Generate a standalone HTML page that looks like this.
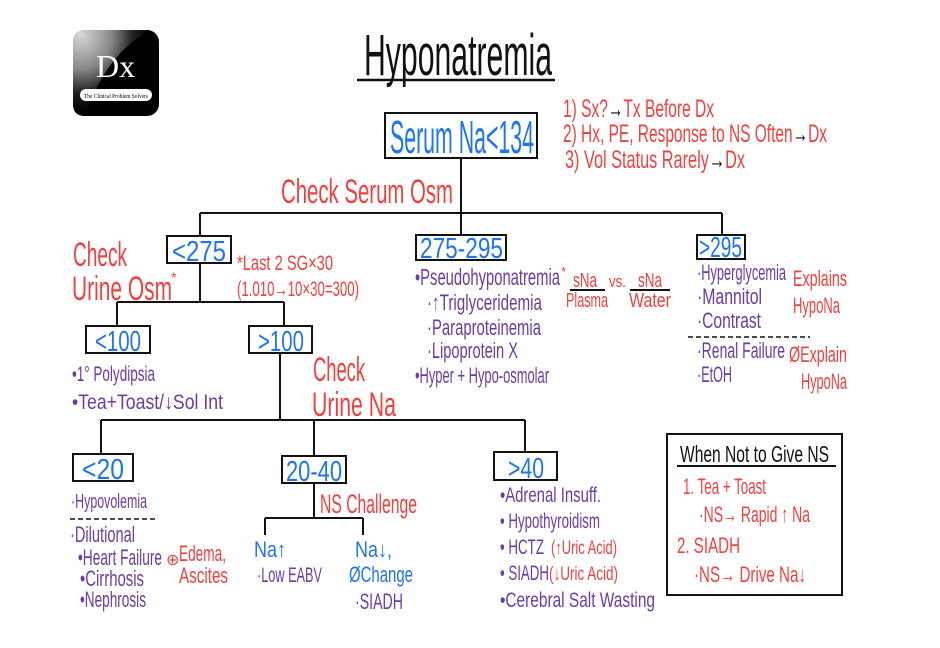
<!DOCTYPE html>
<html><head><meta charset="utf-8"><style>
html,body{margin:0;padding:0;background:#fff;}
svg{display:block;}
text{font-family:"Liberation Sans","DejaVu Sans",sans-serif;}
.b{fill:#1f74f2}.r{fill:#f2403c}.p{fill:#6b3ca6}.k{fill:#111}
</style></head><body>
<svg width="940" height="648" viewBox="0 0 940 648" xmlns="http://www.w3.org/2000/svg">
<defs>
<radialGradient id="g" cx="0.1" cy="0.05" r="0.9">
<stop offset="0" stop-color="#d8d8d8"/><stop offset="0.45" stop-color="#888"/><stop offset="0.75" stop-color="#222"/><stop offset="1" stop-color="#000"/>
</radialGradient>
</defs>
<!-- logo -->
<rect x="73" y="30" width="86" height="86" rx="12" fill="#000"/>
<path d="M85,30 L150,30 Q105,55 85,116 Q73,116 73,104 L73,42 Q73,30 85,30 Z" fill="url(#g)"/>
<text x="96" y="77" font-size="32" fill="#fff" style="font-family:'Liberation Serif',serif">Dx</text>
<rect x="80" y="89" width="72" height="12" rx="6" fill="#fff"/>
<text x="84" y="98" font-size="6.5" fill="#000" textLength="64" lengthAdjust="spacingAndGlyphs" style="font-family:'Liberation Serif',serif">The Clinical Problem Solvers</text>

<!-- title -->
<text x="364" y="75" font-size="58" class="k" textLength="188" lengthAdjust="spacingAndGlyphs">Hyponatremia</text>
<line x1="357" y1="80" x2="555" y2="80" stroke="#111" stroke-width="2.5"/>

<!-- lines -->
<g stroke="#111" stroke-width="2" fill="none">
<rect x="385" y="113" width="152" height="45"/>
<path d="M461,158 V235 M200,213 H722 M200,213 V236 M722,213 V235"/>
<rect x="167" y="236" width="64" height="27"/>
<rect x="416" y="235" width="90" height="25"/>
<rect x="697" y="235" width="48" height="24"/>
<path d="M200,263 V302 M117,302 H284 M117,302 V326 M284,302 V326"/>
<rect x="86" y="326" width="64" height="27"/>
<rect x="249" y="326" width="63" height="27"/>
<path d="M280,353 V420 M101,420 H525 M101,420 V454 M314,420 V456 M525,420 V452"/>
<rect x="73" y="454" width="60" height="27"/>
<rect x="282" y="456" width="64" height="27"/>
<rect x="494" y="452" width="63" height="28"/>
<path d="M314,483 V518 M265,518 H363 M265,518 V535 M363,518 V535"/>
<rect x="667" y="434" width="175" height="161"/>
<path d="M677,466 H836"/>
<path d="M570,290 H605 M630,290 H670"/>
</g>
<g stroke="#111" stroke-width="1.5" stroke-dasharray="5,3">
<path d="M688,337 H810 M70,519 H155"/>
</g>

<!-- box labels -->
<text x="390" y="153" font-size="46" class="b" textLength="144" lengthAdjust="spacingAndGlyphs">Serum Na&lt;134</text>
<text x="172" y="261" font-size="29" class="b" textLength="54" lengthAdjust="spacingAndGlyphs">&lt;275</text>
<text x="420" y="258" font-size="29" class="b" textLength="83" lengthAdjust="spacingAndGlyphs">275-295</text>
<text x="699" y="257" font-size="29" class="b" textLength="43" lengthAdjust="spacingAndGlyphs">&gt;295</text>
<text x="95" y="351" font-size="29" class="b" textLength="46" lengthAdjust="spacingAndGlyphs">&lt;100</text>
<text x="258" y="351" font-size="29" class="b" textLength="46" lengthAdjust="spacingAndGlyphs">&gt;100</text>
<text x="82" y="479" font-size="29" class="b" textLength="42" lengthAdjust="spacingAndGlyphs">&lt;20</text>
<text x="286" y="481" font-size="29" class="b" textLength="56" lengthAdjust="spacingAndGlyphs">20-40</text>
<text x="508" y="478" font-size="29" class="b" textLength="36" lengthAdjust="spacingAndGlyphs">&gt;40</text>

<!-- notes -->
<text x="563" y="117" font-size="25" class="r" textLength="151" lengthAdjust="spacingAndGlyphs">1) Sx?<tspan class="k">→</tspan>Tx Before Dx</text>
<text x="563" y="142" font-size="25" class="r" textLength="264" lengthAdjust="spacingAndGlyphs">2) Hx, PE, Response to NS Often<tspan class="k">→</tspan>Dx</text>
<text x="565" y="168" font-size="25" class="r" textLength="180" lengthAdjust="spacingAndGlyphs">3) Vol Status Rarely<tspan class="k">→</tspan>Dx</text>

<text x="281" y="203" font-size="34" class="r" textLength="172" lengthAdjust="spacingAndGlyphs">Check Serum Osm</text>
<text x="73" y="266" font-size="34" class="r" textLength="54" lengthAdjust="spacingAndGlyphs">Check</text>
<text x="72" y="300" font-size="34" class="r" textLength="100" lengthAdjust="spacingAndGlyphs">Urine Osm</text>
<text x="171" y="282" font-size="14" class="r">*</text>
<text x="237" y="270" font-size="21" class="r" textLength="96" lengthAdjust="spacingAndGlyphs">*Last 2 SG×30</text>
<text x="237" y="296" font-size="21" class="r" textLength="122" lengthAdjust="spacingAndGlyphs">(1.010→10×30=300)</text>

<text x="72" y="381" font-size="21" class="p" textLength="83" lengthAdjust="spacingAndGlyphs">•1° Polydipsia</text>
<text x="72" y="409" font-size="21" class="p" textLength="151" lengthAdjust="spacingAndGlyphs">•Tea+Toast/↓Sol Int</text>

<text x="313" y="381" font-size="34" class="r" textLength="52" lengthAdjust="spacingAndGlyphs">Check</text>
<text x="312" y="416" font-size="34" class="r" textLength="84" lengthAdjust="spacingAndGlyphs">Urine Na</text>

<!-- 275-295 -->
<text x="415" y="285" font-size="23" class="p" textLength="145" lengthAdjust="spacingAndGlyphs">•Pseudohyponatremia</text>
<text x="561" y="276" font-size="13" class="r">*</text>
<text x="573" y="287" font-size="20" class="r" textLength="24" lengthAdjust="spacingAndGlyphs">sNa</text>
<text x="566" y="307" font-size="20" class="r" textLength="42" lengthAdjust="spacingAndGlyphs">Plasma</text>
<text x="609" y="287" font-size="17" class="r" textLength="17" lengthAdjust="spacingAndGlyphs">vs.</text>
<text x="638" y="287" font-size="20" class="r" textLength="24" lengthAdjust="spacingAndGlyphs">sNa</text>
<text x="629" y="307" font-size="20" class="r" textLength="42" lengthAdjust="spacingAndGlyphs">Water</text>
<text x="427" y="310" font-size="22" class="p" textLength="115" lengthAdjust="spacingAndGlyphs">·↑Triglyceridemia</text>
<text x="427" y="335" font-size="22" class="p" textLength="114" lengthAdjust="spacingAndGlyphs">·Paraproteinemia</text>
<text x="427" y="358" font-size="22" class="p" textLength="91" lengthAdjust="spacingAndGlyphs">·Lipoprotein X</text>
<text x="415" y="383" font-size="22" class="p" textLength="134" lengthAdjust="spacingAndGlyphs">•Hyper + Hypo-osmolar</text>

<!-- >295 -->
<text x="697" y="280" font-size="22" class="p" textLength="89" lengthAdjust="spacingAndGlyphs">·Hyperglycemia</text>
<text x="697" y="304" font-size="22" class="p" textLength="65" lengthAdjust="spacingAndGlyphs">·Mannitol</text>
<text x="697" y="328" font-size="22" class="p" textLength="64" lengthAdjust="spacingAndGlyphs">·Contrast</text>
<text x="697" y="358" font-size="22" class="p" textLength="88" lengthAdjust="spacingAndGlyphs">·Renal Failure</text>
<text x="697" y="382" font-size="22" class="p" textLength="35" lengthAdjust="spacingAndGlyphs">·EtOH</text>
<text x="793" y="286" font-size="22" class="r" textLength="54" lengthAdjust="spacingAndGlyphs">Explains</text>
<text x="793" y="313" font-size="22" class="r" textLength="47" lengthAdjust="spacingAndGlyphs">HypoNa</text>
<text x="789" y="362" font-size="22" class="r" textLength="58" lengthAdjust="spacingAndGlyphs">ØExplain</text>
<text x="801" y="389" font-size="22" class="r" textLength="46" lengthAdjust="spacingAndGlyphs">HypoNa</text>

<!-- <20 -->
<text x="71" y="508" font-size="20" class="p" textLength="76" lengthAdjust="spacingAndGlyphs">·Hypovolemia</text>
<text x="70" y="542" font-size="22" class="p" textLength="65" lengthAdjust="spacingAndGlyphs">·Dilutional</text>
<text x="78" y="565" font-size="22" class="p" textLength="84" lengthAdjust="spacingAndGlyphs">•Heart Failure</text>
<text x="80" y="586" font-size="22" class="p" textLength="64" lengthAdjust="spacingAndGlyphs">•Cirrhosis</text>
<text x="80" y="607" font-size="22" class="p" textLength="66" lengthAdjust="spacingAndGlyphs">•Nephrosis</text>
<text x="166" y="565" font-size="16" class="r">⊕</text>
<text x="179" y="561" font-size="22" class="r" textLength="47" lengthAdjust="spacingAndGlyphs">Edema,</text>
<text x="179" y="583" font-size="22" class="r" textLength="49" lengthAdjust="spacingAndGlyphs">Ascites</text>

<!-- 20-40 -->
<text x="320" y="513" font-size="27" class="r" textLength="97" lengthAdjust="spacingAndGlyphs">NS Challenge</text>
<text x="254" y="557" font-size="22" class="b" textLength="32" lengthAdjust="spacingAndGlyphs">Na↑</text>
<text x="257" y="582" font-size="21" class="p" textLength="65" lengthAdjust="spacingAndGlyphs">·Low EABV</text>
<text x="355" y="557" font-size="22" class="b" textLength="37" lengthAdjust="spacingAndGlyphs">Na↓,</text>
<text x="349" y="582" font-size="22" class="b" textLength="64" lengthAdjust="spacingAndGlyphs">ØChange</text>
<text x="355" y="609" font-size="22" class="p" textLength="48" lengthAdjust="spacingAndGlyphs">·SIADH</text>

<!-- >40 -->
<text x="500" y="502" font-size="21" class="p" textLength="101" lengthAdjust="spacingAndGlyphs">•Adrenal Insuff.</text>
<text x="500" y="528" font-size="21" class="p" textLength="100" lengthAdjust="spacingAndGlyphs">• Hypothyroidism</text>
<text x="500" y="554" font-size="21" class="p" textLength="44" lengthAdjust="spacingAndGlyphs">• HCTZ</text>
<text x="551" y="554" font-size="19" class="r" textLength="66" lengthAdjust="spacingAndGlyphs">(↑Uric Acid)</text>
<text x="500" y="580" font-size="21" class="p" textLength="49" lengthAdjust="spacingAndGlyphs">• SIADH</text>
<text x="549" y="580" font-size="19" class="r" textLength="69" lengthAdjust="spacingAndGlyphs">(↓Uric Acid)</text>
<text x="500" y="607" font-size="21" class="p" textLength="155" lengthAdjust="spacingAndGlyphs">•Cerebral Salt Wasting</text>

<!-- NS box -->
<text x="680" y="462" font-size="23" class="k" textLength="149" lengthAdjust="spacingAndGlyphs">When Not to Give NS</text>
<text x="683" y="494" font-size="22" class="r" textLength="83" lengthAdjust="spacingAndGlyphs">1. Tea + Toast</text>
<text x="699" y="522" font-size="22" class="r" textLength="111" lengthAdjust="spacingAndGlyphs">·NS→ Rapid ↑ Na</text>
<text x="677" y="553" font-size="22" class="r" textLength="63" lengthAdjust="spacingAndGlyphs">2. SIADH</text>
<text x="694" y="582" font-size="22" class="r" textLength="112" lengthAdjust="spacingAndGlyphs">·NS→ Drive Na↓</text>
</svg>
</body></html>
